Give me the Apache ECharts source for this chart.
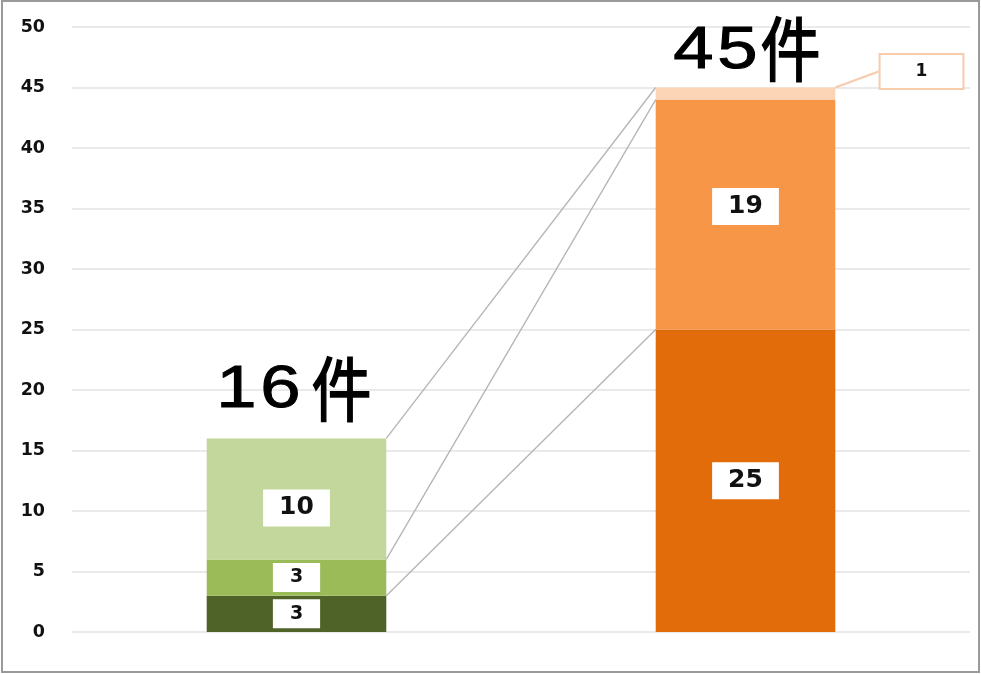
<!DOCTYPE html>
<html>
<head>
<meta charset="utf-8">
<script src="https://cdn.jsdelivr.net/npm/echarts@6/dist/echarts.min.js"></script>
<style>
html,body{margin:0;padding:0;background:#fff;}
#chart{width:981px;height:674px;}
</style>
</head>
<body>
<div id="chart"></div>
<script>
// ---- data ----
const categories = ['左', '右'];
const seriesBottom = [3, 25];
const seriesMiddle = [3, 19];
const seriesTop = [10, 1];
const colorsBottom = ['#4F6228', '#E36C0A'];
const colorsMiddle = ['#9BBB59', '#F79646'];
const colorsTop = ['#C3D69B', '#FBD5B5'];
const unitLabel = '件';
const yTicks = { min: 0, max: 50, interval: 5 };

const totals = categories.map((c, i) => seriesBottom[i] + seriesMiddle[i] + seriesTop[i]);

// connector lines: cumulative tops of left bar -> right bar
const cumL = [seriesBottom[0], seriesBottom[0] + seriesMiddle[0], totals[0]];
const cumR = [seriesBottom[1], seriesBottom[1] + seriesMiddle[1], totals[1]];
const connectors = cumL.map((v, i) => [0, v, cumR[i]]);

const chart = echarts.init(document.getElementById('chart'), null, { renderer: 'canvas' });

const valueLabel = {
  show: true,
  position: 'inside',
  backgroundColor: '#ffffff',
  color: '#111',
  fontFamily: 'DejaVu Sans',
  fontWeight: 'bold',
  fontSize: 25,
  padding: [6, 16],
  formatter: p => p.value
};

function mk(vals, cols, extra) {
  return vals.map((v, i) => {
    const o = { value: v, itemStyle: { color: cols[i] } };
    if (extra && extra[i]) Object.assign(o, extra[i]);
    return o;
  });
}

const smallLabel = { label: { fontSize: 19, padding: [5, 17] } };

const option = {
  animation: false,
  backgroundColor: '#fff',
  grid: { left: 72, right: 11, top: 27, bottom: 42, containLabel: false },
  xAxis: {
    type: 'category',
    data: categories,
    axisLine: { show: false },
    axisTick: { show: false },
    axisLabel: { show: false }
  },
  yAxis: {
    type: 'value',
    min: yTicks.min, max: yTicks.max, interval: yTicks.interval,
    axisLine: { show: false },
    axisTick: { show: false },
    axisLabel: { color: '#111', fontWeight: 'bold', fontSize: 17.5, fontFamily: 'DejaVu Sans', margin: 27 },
    splitLine: { lineStyle: { color: '#e3e3e3', width: 1.5 } }
  },
  graphic: [{
    type: 'rect', silent: true, z: 100,
    shape: { x: 2, y: 1, width: 977, height: 671 },
    style: { fill: 'none', stroke: '#9a9a9a', lineWidth: 2 }
  }],
  series: [
    {
      type: 'bar', stack: 'a', barWidth: '40%',
      data: mk(seriesBottom, colorsBottom, [smallLabel, null]),
      label: valueLabel
    },
    {
      type: 'bar', stack: 'a', barWidth: '40%',
      data: mk(seriesMiddle, colorsMiddle, [smallLabel, { label: { offset: [0, -8] } }]),
      label: valueLabel
    },
    {
      type: 'bar', stack: 'a', barWidth: '40%',
      data: mk(seriesTop, colorsTop, [
        { labelLine: { show: false } },
        { label: { fontSize: 17, padding: [8, 35], borderColor: '#F8CBAD', borderWidth: 2 } }
      ]),
      label: valueLabel,
      labelLayout: function (p) {
        if (p.dataIndex === 1) return { dx: 176, dy: -22 };
        return { dy: 9 };
      },
      labelLine: { show: true, lineStyle: { color: '#F8CBAD', width: 2 } }
    },
    {
      type: 'custom',
      renderItem: function (params, api) {
        const p1 = api.coord([0, api.value(1)]);
        const p2 = api.coord([1, api.value(2)]);
        const bw = api.size([1, 0])[0] * 0.4;
        return {
          type: 'line',
          shape: { x1: p1[0] + bw / 2, y1: p1[1], x2: p2[0] - bw / 2, y2: p2[1] },
          style: { stroke: '#b4b4b4', lineWidth: 1.3 }
        };
      },
      encode: { x: 0, y: 1 },
      data: connectors,
      z: 1
    },
    {
      type: 'custom',
      renderItem: function (params, api) {
        const i = params.dataIndex;
        const p = api.coord([api.value(0), api.value(1)]);
        const lift = i === 0 ? 47.5 : 36.5;
        const lastCenter = i === 0 ? -16 : -8;
        const pitch = 44;
        const digits = String(api.value(1)).split('');
        const n = digits.length;
        const children = digits.map((d, k) => ({
          type: 'text',
          x: lastCenter - (n - 1 - k) * pitch, y: 0,
          scaleX: 1.45, scaleY: 1.2,
          style: {
            text: d, fill: '#000', stroke: '#000', lineWidth: 0.8,
            font: '50px "Liberation Sans"',
            textAlign: 'center', textVerticalAlign: 'middle'
          }
        }));
        children.push({
          type: 'text', x: 15, y: -2, scaleY: 1.18,
          style: {
            text: unitLabel, fill: '#000', stroke: '#000', lineWidth: 1.3,
            font: '60px "Noto Sans CJK JP"',
            textAlign: 'left', textVerticalAlign: 'middle'
          }
        });
        return { type: 'group', x: p[0], y: p[1] - lift, children: children };
      },
      encode: { x: 0, y: 1 },
      data: totals.map((t, i) => [i, t]),
      z: 10
    }
  ]
};
chart.setOption(option);
</script>
</body>
</html>
